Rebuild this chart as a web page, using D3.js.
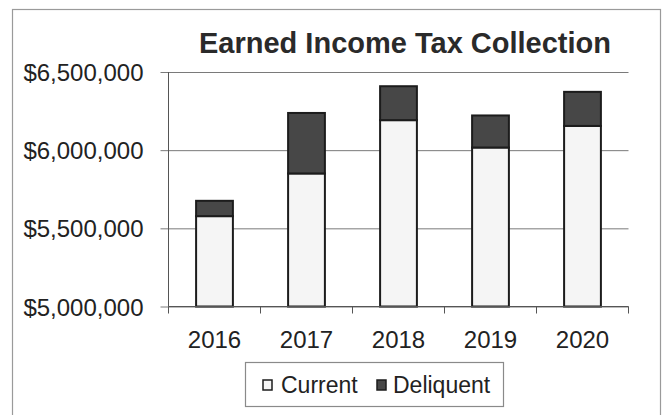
<!DOCTYPE html>
<html>
<head>
<meta charset="utf-8">
<script src="https://cdn.jsdelivr.net/npm/d3@7/dist/d3.min.js"></script>
<style>
  html, body { margin: 0; padding: 0; background: #fff; }
  svg { display: block; font-family: Arial, "Liberation Sans", sans-serif; }
</style>
</head>
<body>
<svg id="chart" width="665" height="415"></svg>
<script>
// Earned income tax collections by year, split into current and delinquent receipts
const years = ["2016", "2017", "2018", "2019", "2020"];
const currentValues = [5578000, 5851000, 6192000, 6017000, 6155000];
const delinquentValues = [98000, 387000, 217000, 205000, 218000];
const yTicks = [5000000, 5500000, 6000000, 6500000];
const seriesNames = ["Current", "Deliquent"];
const seriesColors = ["#f5f5f5", "#474747"];

const svg = d3.select("#chart");
const ink = "#222";

// outer chart frame
svg.append("rect")
  .attr("x", 12.5).attr("y", 9.5)
  .attr("width", 648).attr("height", 430)
  .attr("fill", "#fff").attr("stroke", "#9a9a9a").attr("stroke-width", 1.2);

const plot = { left: 168.5, right: 628.5, top: 72, bottom: 306.5 };

const x = d3.scaleBand()
  .domain(years)
  .range([plot.left, plot.right])
  .paddingInner(0.6)
  .paddingOuter(0.3);

const y = d3.scaleLinear()
  .domain([5000000, 6500000])
  .range([plot.bottom, plot.top]);

const fmt = v => "$" + d3.format(",")(v);

// title
svg.append("text")
  .attr("x", 405).attr("y", 53)
  .attr("text-anchor", "middle")
  .attr("font-size", 29).attr("font-weight", "bold")
  .attr("fill", "#2a2a2a")
  .text("Earned Income Tax Collection");

// horizontal gridlines with outward ticks
const yAxis = d3.axisLeft(y)
  .tickValues(yTicks)
  .tickFormat(fmt)
  .tickSize(-(plot.right - plot.left))
  .tickPadding(0);

const gy = svg.append("g")
  .attr("transform", `translate(${plot.left},0)`)
  .call(yAxis);
gy.select(".domain").remove();
gy.selectAll(".tick line")
  .attr("x1", -8)
  .attr("stroke", "#7a7a7a").attr("stroke-width", 1);
gy.selectAll(".tick text")
  .attr("x", -25)
  .attr("dy", "0.36em")
  .attr("font-size", 24)
  .attr("font-family", "Arial, 'Liberation Sans', sans-serif")
  .attr("fill", ink);

// vertical axis line
svg.append("line")
  .attr("x1", plot.left).attr("x2", plot.left)
  .attr("y1", plot.top).attr("y2", plot.bottom)
  .attr("stroke", "#555").attr("stroke-width", 1);

// stacked bars
const stackData = years.map((yr, i) => ({ year: yr, Current: currentValues[i], Deliquent: delinquentValues[i] }));
const stack = d3.stack().keys(seriesNames);
const layers = stack(stackData);

svg.append("g")
  .selectAll("g")
  .data(layers)
  .join("g")
  .attr("fill", (d, i) => seriesColors[i])
  .selectAll("rect")
  .data(d => d)
  .join("rect")
  .attr("x", d => x(d.data.year))
  .attr("width", x.bandwidth())
  .attr("y", d => y(Math.max(d[1], 5000000)))
  .attr("height", d => y(Math.max(d[0], 5000000)) - y(Math.max(d[1], 5000000)))
  .attr("stroke", "#1c1c1c")
  .attr("stroke-width", 2);

// category axis with boundary ticks
const slot = x.step();
const xAxisG = svg.append("g");
xAxisG.append("line")
  .attr("x1", plot.left).attr("x2", plot.right)
  .attr("y1", plot.bottom).attr("y2", plot.bottom)
  .attr("stroke", "#555").attr("stroke-width", 1.2);
xAxisG.selectAll("line.bound")
  .data(d3.range(years.length + 1))
  .join("line")
  .attr("class", "bound")
  .attr("x1", i => plot.left + i * slot).attr("x2", i => plot.left + i * slot)
  .attr("y1", plot.bottom).attr("y2", plot.bottom + 7)
  .attr("stroke", "#555").attr("stroke-width", 1);
xAxisG.selectAll("text")
  .data(years)
  .join("text")
  .attr("x", d => x(d) + x.bandwidth() / 2)
  .attr("y", 348)
  .attr("text-anchor", "middle")
  .attr("font-size", 24)
  .attr("fill", ink)
  .text(d => d);

// legend
const lg = svg.append("g");
lg.append("rect")
  .attr("x", 245.5).attr("y", 362.5)
  .attr("width", 258).attr("height", 44)
  .attr("fill", "#fff").attr("stroke", "#8a8a8a").attr("stroke-width", 1.2);
const legendItems = [{ name: seriesNames[0], mx: 263, tx: 281 }, { name: seriesNames[1], mx: 377, tx: 393 }];
legendItems.forEach((it, i) => {
  lg.append("rect")
    .attr("x", it.mx).attr("y", 380)
    .attr("width", 9).attr("height", 10)
    .attr("fill", seriesColors[i])
    .attr("stroke", "#1c1c1c").attr("stroke-width", 1.5);
  lg.append("text")
    .attr("x", it.tx).attr("y", 393)
    .attr("font-size", 23)
    .attr("fill", ink)
    .text(it.name);
});
</script>
</body>
</html>
